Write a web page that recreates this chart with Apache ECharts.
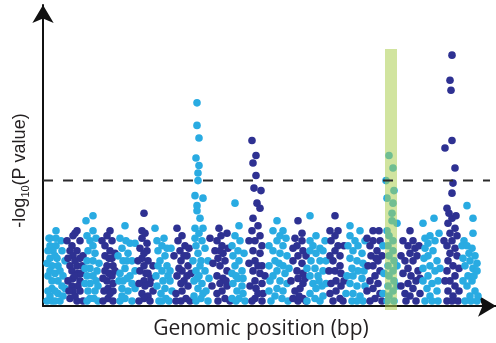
<!DOCTYPE html>
<html>
<head>
<meta charset="utf-8">
<script src="https://cdn.jsdelivr.net/npm/echarts@6/dist/echarts.min.js"></script>
<style>
  html, body { margin: 0; padding: 0; background: #fff; }
  #chart { width: 496px; height: 343px; }
</style>
</head>
<body>
<div id="chart"></div>
<script>
// Manhattan plot: each chromosome is a list of [position, -log10(P)] pairs.
const chr01 = [[13,3.0],[7,2.7],[7,2.4],[13,2.4],[10,2.2],[19,2.2],[7,1.9],[14,1.9],[9,1.6],[15,1.6],[7,1.4],[12,1.3],[20,1.2],[9,1.0],[15,1.0],[9,0.7],[19,0.8],[7,0.4],[15,0.5],[9,0.2],[17,0.2],[20,0.4],[5,2.2],[5,1.2],[5,0.6],[22,1.8],[22,0.7],[6,2.7],[13,2.7],[17,1.4],[12,2.0],[18,2.6],[4,1.7],[4,0.2],[12,0.6],[12,0.2]];
const chr02 = [[34,3.0],[30,2.8],[24,2.6],[37,2.6],[29,2.4],[27,2.2],[34,2.2],[30,2.0],[37,1.9],[27,1.6],[34,1.6],[39,1.6],[29,1.4],[35,1.3],[30,1.1],[37,1.0],[29,0.8],[35,0.8],[30,0.6],[37,0.6],[27,0.3],[34,0.2],[40,0.2],[25,1.9],[40,2.0],[25,1.0],[32,2.9],[32,1.8],[32,1.2],[32,0.4],[38,1.3],[26,0.6]];
const chr03 = [[43,3.4],[50,3.6],[50,3.0],[44,2.8],[47,2.6],[50,2.4],[45,2.2],[52,2.1],[44,1.8],[50,1.8],[47,1.5],[54,1.4],[44,1.2],[50,1.2],[47,0.9],[55,0.8],[45,0.6],[52,0.6],[47,0.3],[55,0.2],[44,0.2],[56,1.7],[42,1.5],[53,2.7],[42,0.9],[51,0.3],[53,1.0]];
const chr04 = [[67,3.0],[64,2.8],[59,2.6],[69,2.6],[62,2.4],[67,2.2],[62,2.0],[69,1.9],[64,1.6],[70,1.6],[62,1.4],[69,1.2],[64,1.0],[70,0.9],[65,0.7],[70,0.6],[65,0.3],[70,0.2],[60,0.2],[60,1.1],[72,2.1],[66,1.9],[66,1.3],[61,0.6],[67,0.5],[72,1.4]];
const chr05 = [[82,3.2],[77,2.7],[87,2.5],[79,2.3],[85,2.1],[80,1.8],[89,1.8],[82,1.5],[77,1.3],[87,1.2],[80,1.0],[89,0.9],[79,0.7],[85,0.6],[82,0.3],[89,0.2],[77,0.2],[92,2.5],[92,1.4],[75,2.0],[83,2.6],[84,1.8],[76,1.0],[92,0.7],[84,1.1],[79,0.4]];
const chr06 = [[101,3.7],[99,3.0],[99,2.7],[104,2.5],[97,2.3],[104,2.2],[99,1.9],[105,1.8],[101,1.6],[97,1.4],[105,1.3],[101,1.0],[107,0.9],[102,0.8],[99,0.5],[105,0.4],[101,0.3],[107,0.2],[110,1.6],[95,1.8],[110,0.6],[102,2.9],[101,2.1],[103,1.3],[96,0.9],[96,0.2],[108,1.1]];
const chr07 = [[112,3.1],[114,2.6],[119,2.4],[115,2.2],[122,2.0],[117,1.8],[124,1.6],[119,1.4],[125,1.2],[120,1.0],[127,1.0],[122,0.7],[129,0.6],[118,0.5],[123,0.3],[116,0.2],[126,0.2],[128,2.3],[113,1.2],[121,2.7],[115,1.6],[124,2.3],[114,0.8],[127,1.4],[119,0.2]];
const chr08 = [[134,3.1],[139,2.8],[135,2.6],[142,2.4],[137,2.2],[144,2.0],[138,1.8],[145,1.6],[139,1.4],[134,1.2],[144,1.2],[138,0.9],[145,0.8],[139,0.6],[133,0.5],[143,0.3],[138,0.2],[147,0.2],[131,2.0],[148,1.3],[141,2.0],[136,1.5],[141,1.0],[133,0.2],[146,2.3]];
const chr09 = [[154,8.1],[154,7.2],[156,6.7],[153,5.9],[156,5.6],[155,5.3],[155,5.0],[152,4.4],[160,4.3],[154,4.0],[154,3.8],[157,3.5],[152,3.1],[160,3.1],[152,2.7],[159,2.6],[153,2.4],[162,2.3],[155,2.1],[150,1.8],[158,1.8],[153,1.4],[162,1.4],[156,1.2],[151,1.0],[159,0.9],[155,0.7],[163,0.6],[151,0.4],[158,0.3],[165,0.2],[153,0.2],[156,2.9],[157,1.6],[165,1.8],[154,1.1],[160,0.5],[166,1.1]];
const chr10 = [[176,3.1],[184,2.9],[167,2.7],[174,2.6],[179,2.4],[172,2.2],[180,2.1],[175,1.9],[182,1.8],[177,1.6],[184,1.4],[174,1.2],[180,1.1],[177,0.9],[184,0.8],[179,0.6],[174,0.5],[182,0.3],[175,0.2],[187,0.2],[178,2.8],[170,1.7],[177,2.2],[185,2.3],[169,0.8],[183,1.0]];
const chr11 = [[192,4.1],[196,3.2],[192,2.8],[197,2.6],[189,2.4],[195,2.2],[190,2.0],[196,1.8],[192,1.6],[199,1.4],[189,1.3],[195,1.1],[190,0.9],[199,0.8],[194,0.6],[189,0.3],[196,0.3],[200,0.5],[201,2.1],[193,1.2],[200,1.1],[202,0.2],[193,0.2]];
const chr12 = [[209,6.6],[213,6.0],[210,5.7],[213,5.2],[211,4.7],[218,4.6],[214,4.1],[217,3.9],[210,3.5],[215,3.2],[209,3.0],[217,2.8],[212,2.6],[219,2.4],[210,2.2],[217,2.1],[212,1.8],[219,1.6],[210,1.4],[217,1.3],[212,1.0],[219,0.9],[213,0.7],[220,0.5],[212,0.3],[219,0.2],[209,0.2],[206,2.6],[206,1.7],[215,1.6],[207,0.8],[215,0.5],[222,1.2]];
const chr13 = [[234,3.4],[240,3.0],[237,2.8],[230,3.0],[234,2.6],[240,2.4],[230,2.2],[237,2.1],[244,2.0],[232,1.8],[240,1.6],[234,1.4],[242,1.3],[230,1.2],[237,1.0],[244,0.9],[234,0.7],[240,0.6],[232,0.4],[239,0.3],[245,0.2],[226,2.4],[226,1.6],[226,0.6],[243,2.7],[236,1.7],[228,0.2],[246,1.5],[227,1.0]];
const chr14 = [[255,3.4],[259,2.9],[252,2.7],[259,2.6],[254,2.4],[260,2.2],[255,2.0],[250,1.8],[259,1.7],[254,1.4],[260,1.3],[255,1.1],[260,0.9],[257,0.7],[252,0.6],[260,0.3],[255,0.2],[263,0.2],[248,1.0],[250,2.3],[263,2.0],[250,0.3],[262,1.1],[256,0.4]];
const chr15 = [[267,3.6],[270,2.4],[277,2.3],[267,2.2],[273,2.1],[280,2.2],[268,1.8],[277,1.8],[272,1.5],[280,1.4],[267,1.2],[275,1.2],[270,0.9],[279,0.8],[273,0.7],[267,0.5],[280,0.4],[272,0.3],[277,0.2],[267,2.6],[282,2.6],[273,2.8],[283,1.8],[264,1.5],[276,1.0],[283,0.9],[264,0.2]];
const chr16 = [[292,3.6],[287,3.0],[295,3.0],[292,2.8],[288,2.6],[295,2.4],[292,2.2],[297,2.0],[290,1.8],[297,1.6],[292,1.4],[298,1.3],[293,1.0],[288,0.9],[298,0.8],[293,0.6],[297,0.3],[290,0.2],[300,0.2],[287,2.0],[286,1.4],[301,2.4],[287,0.5],[301,1.0]];
const chr17 = [[307,3.2],[317,3.0],[307,2.8],[312,2.6],[305,2.4],[315,2.4],[310,2.2],[319,2.1],[307,1.9],[314,1.8],[320,1.7],[309,1.5],[315,1.4],[310,1.2],[319,1.1],[307,0.9],[314,0.8],[322,0.8],[310,0.5],[317,0.4],[309,0.2],[320,0.2],[304,1.2],[322,2.6],[303,0.5],[314,0.2],[321,1.4]];
const chr18 = [[330,3.0],[324,2.7],[330,2.6],[337,2.6],[327,2.4],[334,2.2],[328,2.0],[335,1.8],[330,1.6],[337,1.4],[332,1.2],[327,1.0],[335,0.9],[330,0.7],[337,0.5],[332,0.3],[327,0.2],[339,0.2],[325,1.6],[336,3.0],[339,2.0],[324,0.6],[333,1.9]];
const chr19 = [[346,6.0],[350,5.5],[343,5.0],[351,4.6],[344,4.3],[350,4.1],[349,3.7],[349,3.4],[354,3.3],[344,3.0],[346,2.8],[350,2.6],[345,2.4],[350,2.2],[346,2.0],[351,1.8],[345,1.6],[350,1.4],[346,1.2],[351,1.0],[345,0.8],[350,0.6],[346,0.4],[351,0.2],[344,0.2],[340,2.4],[341,1.3],[340,0.5],[354,1.6],[354,0.8]];
const chr20 = [[367,3.0],[360,2.6],[370,2.6],[365,2.4],[372,2.3],[367,2.1],[374,2.0],[362,1.8],[370,1.8],[365,1.5],[375,1.4],[360,1.3],[368,1.2],[373,1.0],[365,0.9],[370,0.7],[377,0.5],[367,0.4],[373,0.2],[363,0.2],[358,2.0],[358,0.8],[376,2.4],[362,0.5],[377,1.1]];
const chr21 = [[391,3.5],[380,3.3],[382,2.7],[387,2.8],[385,2.5],[392,2.6],[382,2.3],[390,2.2],[385,2.0],[394,1.8],[387,1.6],[380,1.5],[392,1.4],[385,1.2],[395,1.0],[389,0.9],[384,0.7],[394,0.6],[387,0.4],[395,0.2],[382,0.2],[396,2.9],[380,1.0],[389,0.2],[397,1.5],[381,1.9]];
const chr22 = [[409,10.0],[407,9.0],[408,8.6],[402,6.3],[409,6.6],[412,5.5],[410,4.9],[409,4.5],[404,3.9],[406,3.7],[409,3.5],[405,3.3],[412,3.1],[407,2.9],[414,2.8],[409,2.6],[401,2.6],[404,2.4],[412,2.3],[407,2.1],[414,2.0],[405,1.8],[410,1.6],[404,1.4],[412,1.2],[407,1.0],[412,0.8],[405,0.6],[410,0.4],[404,0.2],[415,0.2],[416,1.5],[402,1.0],[416,0.6],[409,0.2],[413,3.6]];
const chr23 = [[424,4.0],[430,3.5],[430,2.9],[421,2.6],[419,2.4],[424,2.4],[429,2.3],[426,2.1],[432,2.0],[427,1.8],[434,1.7],[422,1.6],[430,1.5],[434,1.4],[425,1.2],[429,1.0],[424,0.8],[432,0.6],[427,0.4],[435,0.4],[422,0.2],[434,0.2],[420,1.0],[428,0.2],[431,1.2],[420,1.9]];

const chromosomes = [chr01, chr02, chr03, chr04, chr05, chr06, chr07, chr08, chr09, chr10, chr11, chr12,
                     chr13, chr14, chr15, chr16, chr17, chr18, chr19, chr20, chr21, chr22, chr23];
const chromColors = ['#29abe2', '#2e3192'];

const significanceLine = 5;          // -log10(P) threshold
const thresholdEnd = 447;             // dashed line stops just short of the arrow
const highlightRegion = [342, 354];   // highlighted locus, genomic position range
const highlightTop = 10.25;
const xMax = 453;
const yMax = 12;

const chart = echarts.init(document.getElementById('chart'), null, { renderer: 'canvas' });

const series = chromosomes.map((pts, i) => ({
  type: 'scatter',
  data: pts,
  symbolSize: 7.6,
  z: 2,
  itemStyle: { color: chromColors[i % 2], opacity: 1 },
  silent: true
}));

// highlighted locus band, drawn over the points
series.push({
  type: 'custom',
  z: 3,
  silent: true,
  data: [[highlightRegion[0], highlightRegion[1], -0.16, highlightTop]],
  renderItem: function (params, api) {
    const p0 = api.coord([api.value(0), api.value(3)]);
    const p1 = api.coord([api.value(1), api.value(2)]);
    return {
      type: 'rect',
      shape: { x: p0[0], y: p0[1], width: p1[0] - p0[0], height: p1[1] - p0[1] },
      style: { fill: 'rgba(172,206,80,0.55)' }
    };
  }
});

// genome-wide significance threshold
series.push({
  type: 'line',
  z: 5,
  silent: true,
  symbol: 'none',
  data: [[0, significanceLine], [thresholdEnd, significanceLine]],
  lineStyle: { color: '#2b2b2b', width: 2, type: [10, 10] }
});

chart.setOption({
  animation: false,
  backgroundColor: '#ffffff',
  grid: { left: 43, right: 0, top: 5, bottom: 37, outerBoundsMode: 'none', containLabel: false },
  xAxis: {
    type: 'value', min: 0, max: xMax,
    name: 'Genomic position (bp)',
    nameLocation: 'middle',
    nameGap: 13,
    nameTextStyle: { fontFamily: 'Open Sans', fontSize: 21, color: '#231f20', padding: [0, 17, 0, 0], verticalAlign: 'top' },
    axisLine: { show: true, symbol: ['none', 'arrow'], symbolSize: [16, 18], lineStyle: { color: '#111', width: 2 } },
    axisTick: { show: false }, axisLabel: { show: false }, splitLine: { show: false }
  },
  yAxis: {
    type: 'value', min: 0, max: yMax,
    name: '{a|-log}{s|10}{a|(P value)}',
    nameLocation: 'middle',
    nameGap: 12,
    nameTextStyle: {
      padding: [0, 30, 0, 0],
      rich: {
        a: { fontFamily: 'Liberation Sans', fontSize: 18, color: '#231f20', lineHeight: 22 },
        s: { fontFamily: 'Liberation Sans', fontSize: 11, color: '#231f20', lineHeight: 22, verticalAlign: 'bottom', padding: [8, 0, 0, 0] }
      }
    },
    axisLine: { show: true, symbol: ['none', 'arrow'], symbolSize: [16, 18], lineStyle: { color: '#111', width: 2 } },
    axisTick: { show: false }, axisLabel: { show: false }, splitLine: { show: false }
  },
  series: series
});
</script>
</body>
</html>
